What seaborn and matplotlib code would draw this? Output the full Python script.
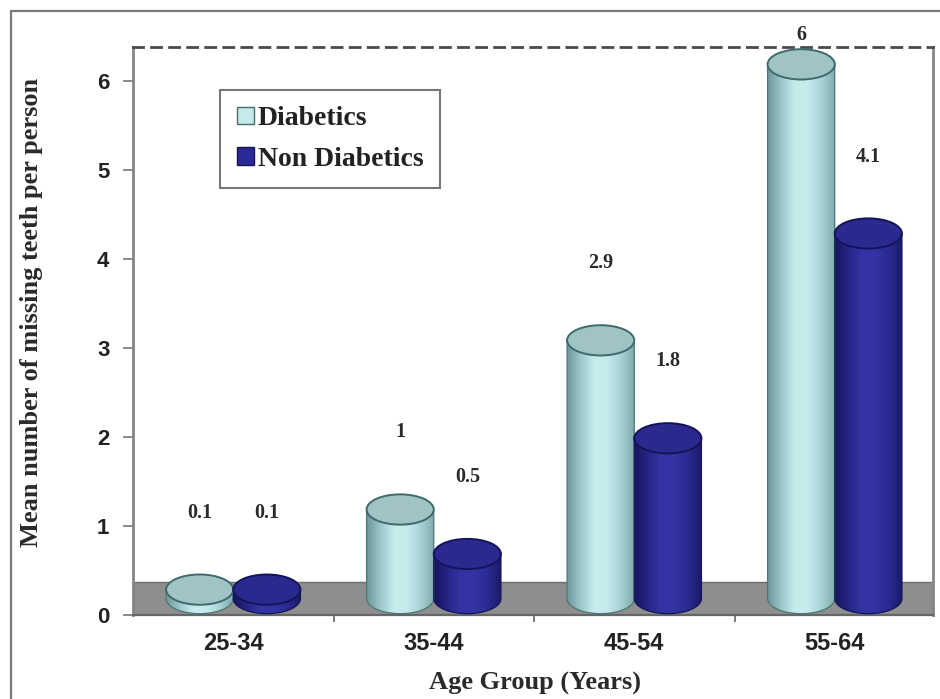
import numpy as np
import pandas as pd
import matplotlib
matplotlib.use("Agg")
import matplotlib.pyplot as plt
import seaborn as sns
from matplotlib.patches import Ellipse, Rectangle, PathPatch, Patch
from matplotlib.path import Path
from matplotlib.lines import Line2D
from matplotlib.colors import LinearSegmentedColormap

# ---- data -------------------------------------------------------------
age_groups = ["25-34", "35-44", "45-54", "55-64"]
series_names = ["Diabetics", "Non Diabetics"]
diabetics = [0.1, 1.0, 2.9, 6.0]
non_diabetics = [0.1, 0.5, 1.8, 4.1]
y_ticks = [0, 1, 2, 3, 4, 5, 6]

df = pd.DataFrame({
    "Age Group": age_groups * 2,
    "Mean": diabetics + non_diabetics,
    "Group": [series_names[0]] * len(age_groups) + [series_names[1]] * len(age_groups),
})

# ---- style ------------------------------------------------------------
sns.set_theme(style="white")
plt.rcParams["font.family"] = ["Liberation Sans", "DejaVu Sans"]
SERIF = ["Liberation Serif", "DejaVu Serif"]

body_colors = {
    "Diabetics": ["#6f9a9c", "#9ec8ca", "#c6ecee", "#c4eaec", "#a6d2d4", "#7fa9ab"],
    "Non Diabetics": ["#16165e", "#262688", "#3434a6", "#3333a4", "#2a2a92", "#1a1a68"],
}
base_colors = {"Diabetics": "#c2e8ea", "Non Diabetics": "#3030a0"}
cap_face = {"Diabetics": "#a0c4c5", "Non Diabetics": "#2a2a8e"}
cap_edge = {"Diabetics": "#3f6a6b", "Non Diabetics": "#14145a"}
outline = {"Diabetics": "#4c7677", "Non Diabetics": "#151558"}

Y_TOP = 6.38          # back wall height
DEPTH = 0.37          # floor depth (value units)
LIFT = DEPTH / 2      # cylinders stand in the middle of the floor
ELL_H = 0.34          # vertical size of the cylinder ends

fig = plt.figure(figsize=(9.4, 6.99), dpi=100)
ax = fig.add_axes([133 / 940, 84 / 699, 800 / 940, 568 / 699])

sns.barplot(data=df, x="Age Group", y="Mean", hue="Group",
            palette=base_colors, hue_order=series_names, order=age_groups,
            width=0.67, saturation=1, edgecolor="none", legend=False,
            ax=ax, zorder=3)

ax.set_xlim(-0.5, 3.49)
ax.set_ylim(0, Y_TOP)

# floor band
ax.add_patch(Rectangle((-0.5, 0), 4.0, DEPTH, facecolor="#8e8e8e",
                       edgecolor="#6e6e6e", lw=1.0, zorder=1))

grad_x = np.linspace(0, 1, 64)

for container, name in zip(ax.containers, series_names):
    cmap = LinearSegmentedColormap.from_list(name, body_colors[name])
    rgb = cmap(grad_x)[np.newaxis, :, :]
    for bar in container:
        x0, w = bar.get_x(), bar.get_width()
        h = bar.get_height()
        bar.set_y(LIFT)
        xc = x0 + w / 2
        # body outline: straight sides plus the front half of the base ellipse
        t = np.linspace(np.pi, 2 * np.pi, 60)
        verts = [(x0, LIFT + h)]
        verts += list(zip(xc + (w / 2) * np.cos(t), LIFT + (ELL_H / 2) * np.sin(t)))
        verts += [(x0 + w, LIFT + h), (x0, LIFT + h)]
        codes = [Path.MOVETO] + [Path.LINETO] * (len(verts) - 2) + [Path.CLOSEPOLY]
        body = PathPatch(Path(verts, codes), transform=ax.transData,
                         facecolor="none", edgecolor=outline[name], lw=0.9, zorder=3.3)
        ax.add_patch(body)
        img = ax.imshow(rgb, extent=(x0, x0 + w, LIFT - ELL_H / 2, LIFT + h),
                        aspect="auto", interpolation="bicubic", zorder=3.2)
        img.set_clip_path(body)
        # top cap
        ax.add_patch(Ellipse((xc, LIFT + h), w, ELL_H, facecolor=cap_face[name],
                             edgecolor=cap_edge[name], lw=1.4, zorder=3.4))

# value labels above each cylinder
for container, name in zip(ax.containers, series_names):
    for bar in container:
        v = bar.get_height()
        xc = bar.get_x() + bar.get_width() / 2
        ly = v + 1.05 if v + 1.05 < Y_TOP else Y_TOP + 0.13
        ax.text(xc, ly, f"{v:g}", ha="center", va="center", fontsize=14.5,
                fontweight="bold", family=SERIF, color="#2a2a2a", clip_on=False, zorder=5)

ax.set_xlim(-0.5, 3.49)
ax.set_ylim(0, Y_TOP)

# axes frame: dashed back-wall edge at the top
for side in ["left", "right"]:
    ax.spines[side].set_color("#858585")
    ax.spines[side].set_linewidth(2.0)
ax.spines["bottom"].set_color("#666666")
ax.spines["bottom"].set_linewidth(1.6)
ax.spines["top"].set_color("#4a4a4a")
ax.spines["top"].set_linewidth(2.0)
ax.spines["top"].set_linestyle((0, (3.6, 2.9)))
for s in ax.spines.values():
    s.set_visible(True)

ax.set_yticks(y_ticks)
ax.set_yticklabels([str(t) for t in y_ticks], fontsize=16, fontweight="bold", color="#222222")
ax.tick_params(axis="y", which="major", left=True, direction="out", length=7,
               width=1.3, color="#808080", pad=10)
ax.set_xticks(range(len(age_groups)))
ax.set_xticklabels(age_groups, fontsize=17, fontweight="bold", color="#222222")
ax.tick_params(axis="x", which="major", bottom=False, length=0, pad=12)
ax.set_xticks([0.5, 1.5, 2.5], minor=True)
ax.tick_params(axis="x", which="minor", bottom=True, direction="out", length=5,
               width=1.3, color="#707070")
ax.set_xlabel("")
ax.set_ylabel("")
ax.grid(False)

fig.text(32 / 940, 1 - 312 / 699, "Mean number of missing teeth per person",
         rotation=90, ha="center", va="center", fontsize=19, fontweight="bold",
         family=SERIF, color="#2a2a2a")
fig.text(535 / 940, 1 - 683 / 699, "Age Group (Years)", ha="center", va="center",
         fontsize=19, fontweight="bold", family=SERIF, color="#2a2a2a")

handles = [Patch(facecolor="#c5eaec", edgecolor="#4a6b6c", lw=1.0),
           Patch(facecolor="#2a2a96", edgecolor="#15154f", lw=1.0)]
leg = ax.legend(handles, series_names, loc="upper left",
                bbox_to_anchor=(0.109, 0.925), frameon=True, fancybox=False,
                prop={"family": SERIF, "weight": "bold", "size": 20},
                handlelength=0.6, handleheight=0.6, handletextpad=0.15,
                labelspacing=0.55, borderpad=0.6, borderaxespad=0)
leg.get_frame().set_edgecolor("#555555")
leg.get_frame().set_linewidth(1.5)
for t in leg.get_texts():
    t.set_color("#222222")

# outer figure border (left and top edges)
fig.add_artist(Line2D([10.5 / 940, 10.5 / 940], [0, 1 - 11 / 699],
                      transform=fig.transFigure, color="#7a7a7a", lw=1.6))
fig.add_artist(Line2D([10.5 / 940, 1], [1 - 11 / 699, 1 - 11 / 699],
                      transform=fig.transFigure, color="#7a7a7a", lw=1.6))

fig.savefig("out.png", dpi=100, facecolor="white")
